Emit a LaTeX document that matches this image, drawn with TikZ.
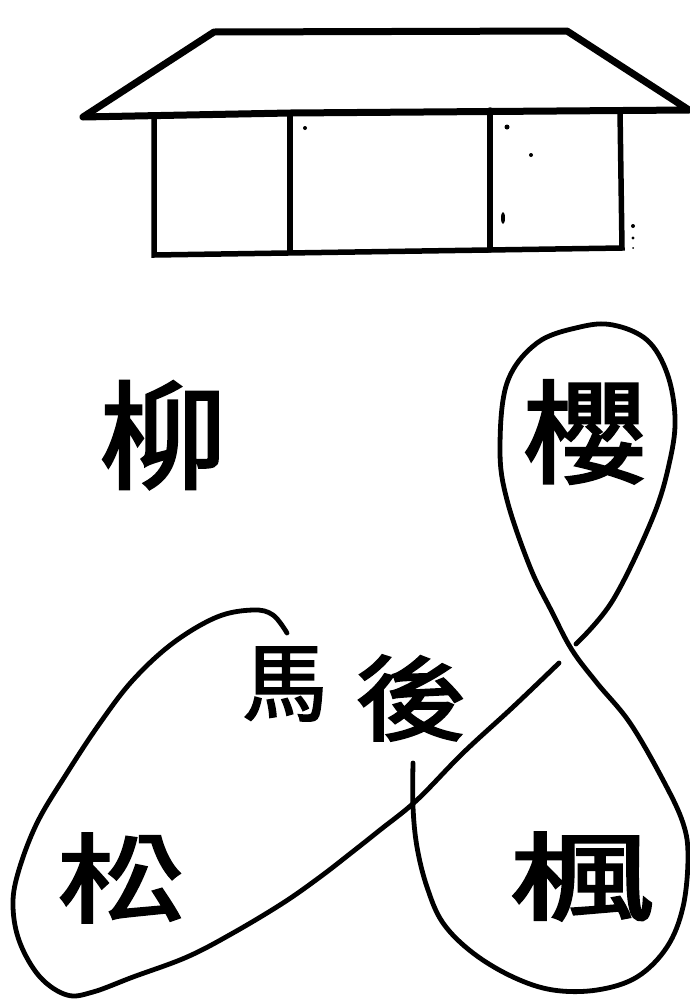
\documentclass[tikz,border=0pt]{standalone}
\usepackage{fontspec}
\newfontfamily\cjk[FakeBold=2.2]{Noto Sans CJK TC}
\begin{document}
\begin{tikzpicture}[x=1pt,y=-1pt,
  roofline/.style={line width=7pt, line join=round, line cap=round},
  wall/.style={line width=5.5pt, line cap=round},
  route/.style={line width=4.8pt, line cap=round, line join=round},
  speck/.style={fill=black, draw=none},
  tree/.style={inner sep=0pt, font={\cjk\fontsize{#1}{#1}\selectfont}}]
\useasboundingbox (0,0) rectangle (689,1002);

% the house: roof
\draw[roofline] (83,117) -- (214,32) -- (567,31) -- (689,110) -- (290,113) -- cycle;
% walls and floor
\draw[wall] (154,117) -- (154,255) -- (622,248) -- (620,110);
\draw[wall] (290,113) -- (290,252);
\draw[wall] (490,110) -- (490,250);
% specks on the print
\fill[speck] (305,128) circle (2pt);
\fill[speck] (507,127) circle (2.5pt);
\fill[speck] (531,155) circle (2pt);
\fill[speck] (503,218) ellipse (2pt and 6pt);
\fill[speck] (633,226) circle (2pt);
\fill[speck] (633,238) circle (1.6pt);
\fill[speck] (633,248) circle (1pt);

% trees and labels
\node[tree=128] (liu)   at (163,435) {\scalebox{1}[0.92]{柳}};
\node[tree=125] (ying)  at (585,432) {\scalebox{1}[0.9]{櫻}};
\node[tree=85]  (ma)    at (285,684) {馬};
\node[tree=112] (hou)   at (411,698) {\scalebox{1}[0.83]{後}};
\node[tree=130] (song)  at (122,878) {\scalebox{1}[0.75]{松}};
\node[tree=145] (feng)  at (582,877) {\scalebox{1}[0.66]{楓}};

% the route: from the hook by 馬 round the pine and up under the crossing
\draw[route] plot[smooth, tension=0.6] coordinates {
  (287,633) (273,615) (253,610) (217,617) (173,643) (133,680) (100,723)
  (67,773) (37,823) (18,873) (13,907) (20,943) (40,977) (67,995) (93,992)
  (133,977) (187,957) (233,933) (283,903) (320,877) (351,853) (380,830)
  (417,800) (463,753) (513,707) (559,663)};
% round the cherry, down through the crossing and round the maple
\draw[route] plot[smooth, tension=0.6] coordinates {
  (576,644) (613,600) (653,517) (670,460) (675,417) (667,373) (647,340)
  (613,325) (580,327) (537,343) (507,383) (500,450) (507,500) (530,567)
  (552,612) (572,650) (597,683) (630,723) (663,780) (683,823) (688,857)
  (683,907) (667,947) (637,977) (597,990) (553,990) (513,977) (473,953)
  (443,923) (427,887) (417,847) (413,807) (413,763)};
\end{tikzpicture}
\end{document}
